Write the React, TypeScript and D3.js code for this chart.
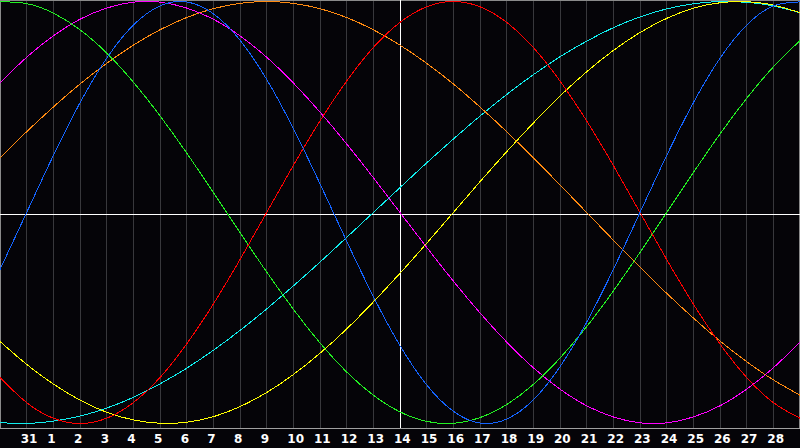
import * as d3 from 'd3'

// day labels, one per grid column (previous month 30, 31, then current month)
const DAYS = ['30', '31', '1', '2', '3', '4', '5', '6', '7', '8', '9', '10', '11', '12', '13', '14',
  '15', '16', '17', '18', '19', '20', '21', '22', '23', '24', '25', '26', '27', '28', '29']
const TODAY = '14'

// daily cycle values (-1 .. 1)
const physical = [-0.270, 0, 0.270, 0.520, 0.731, 0.888, 0.979, 0.998, 0.942, 0.817, 0.631, 0.398, 0.136,
  -0.136, -0.398, -0.631, -0.817, -0.942, -0.998, -0.979, -0.888, -0.731, -0.520, -0.270, 0, 0.270, 0.520,
  0.731, 0.888, 0.979, 0.998]
const emotional = [-0.782, -0.901, -0.975, -1, -0.975, -0.901, -0.782, -0.623, -0.434, -0.223, 0, 0.223,
  0.434, 0.623, 0.782, 0.901, 0.975, 1, 0.975, 0.901, 0.782, 0.623, 0.434, 0.223, 0, -0.223, -0.434,
  -0.623, -0.782, -0.901, -0.975]
const intellectual = [0.999, 0.990, 0.945, 0.866, 0.756, 0.618, 0.458, 0.282, 0.095, -0.095, -0.282,
  -0.458, -0.618, -0.756, -0.866, -0.945, -0.990, -0.999, -0.972, -0.910, -0.815, -0.690, -0.541, -0.372,
  -0.189, 0, 0.189, 0.372, 0.541, 0.690, 0.815]
const intuitive = [0.614, 0.736, 0.837, 0.916, 0.969, 0.997, 0.997, 0.969, 0.916, 0.837, 0.736, 0.614,
  0.476, 0.325, 0.165, 0, -0.165, -0.325, -0.476, -0.614, -0.736, -0.837, -0.916, -0.969, -0.997, -0.997,
  -0.969, -0.916, -0.837, -0.736, -0.614]
const aesthetic = [-0.611, -0.720, -0.813, -0.889, -0.947, -0.983, -0.999, -0.994, -0.968, -0.920, -0.853,
  -0.768, -0.667, -0.552, -0.424, -0.288, -0.146, 0, 0.146, 0.288, 0.424, 0.552, 0.667, 0.768, 0.853,
  0.920, 0.968, 0.994, 0.999, 0.983, 0.947]
const awareness = [0.259, 0.383, 0.5, 0.609, 0.707, 0.793, 0.866, 0.924, 0.966, 0.991, 1, 0.991, 0.966,
  0.924, 0.866, 0.793, 0.707, 0.609, 0.5, 0.383, 0.259, 0.131, 0, -0.131, -0.259, -0.383, -0.5, -0.609,
  -0.707, -0.793, -0.866]
const spiritual = [-0.996, -1, -0.989, -0.965, -0.927, -0.876, -0.812, -0.738, -0.653, -0.559, -0.457,
  -0.348, -0.235, -0.118, 0, 0.118, 0.235, 0.348, 0.457, 0.559, 0.653, 0.738, 0.812, 0.876, 0.927, 0.965,
  0.989, 1, 0.996, 0.979, 0.947]

// bottom-most first
const SERIES: [string, number[]][] = [
  ['spiritual', spiritual],
  ['aesthetic', aesthetic],
  ['awareness', awareness],
  ['intuitive', intuitive],
  ['intellectual', intellectual],
  ['emotional', emotional],
  ['physical', physical],
]

const COLORS: Record<string, string> = {
  physical: '#1464ff',
  emotional: '#ff0000',
  intellectual: '#22f022',
  intuitive: '#ff00ff',
  aesthetic: '#ffff00',
  awareness: '#ff8a10',
  spiritual: '#10eeee',
}

const W = 800
const H = 448
const PLOT_BOTTOM = 428

export default function App() {
  const x = d3.scalePoint<string>().domain(DAYS).range([0, W])
  const y = d3.scaleLinear().domain([-1, 1]).range([423.5, 1.5])

  const line = d3.line<number>()
    .x((_, i) => x(DAYS[i]) ?? 0)
    .y(v => y(v))
    .curve(d3.curveNatural)

  const px = (d: string) => Math.min(Math.floor(x(d) ?? 0), W - 1) + 0.5
  const inner = DAYS.slice(1, -1)

  return (
    <div style={{ position: 'fixed', left: 0, top: 0, width: W, height: H }}>
      <svg width={W} height={H} style={{ display: 'block' }}>
        <rect width={W} height={H} fill="#050408" />
        <g shapeRendering="crispEdges">
          {inner.map(d => (
            <line key={d} x1={px(d)} x2={px(d)} y1={0} y2={PLOT_BOTTOM} stroke="#38383c" />
          ))}
          <line x1={0.5} x2={0.5} y1={0} y2={PLOT_BOTTOM} stroke="#8a8a8a" />
          <line x1={W - 0.5} x2={W - 0.5} y1={0} y2={PLOT_BOTTOM} stroke="#8a8a8a" />
          <line x1={0} x2={W} y1={0.5} y2={0.5} stroke="#8a8a8a" />
          <line x1={0} x2={W} y1={PLOT_BOTTOM + 0.5} y2={PLOT_BOTTOM + 0.5} stroke="#a0a0a0" />
          <line x1={0} x2={W} y1={214.5} y2={214.5} stroke="#ffffff" />
          <line x1={px(TODAY)} x2={px(TODAY)} y1={0} y2={PLOT_BOTTOM} stroke="#ffffff" />
        </g>
        <g fill="none" strokeWidth={1} shapeRendering="crispEdges">
          {SERIES.map(([name, values]) => (
            <path key={name} d={line(values) ?? ''} stroke={COLORS[name]} />
          ))}
        </g>
        <g fill="#ffffff" fontFamily="'DejaVu Sans', sans-serif" fontWeight="bold" fontSize={12}>
          {inner.map(d => (
            <text key={d} x={(x(d) ?? 0) - 6} y={443}>{d}</text>
          ))}
        </g>
      </svg>
    </div>
  )
}
